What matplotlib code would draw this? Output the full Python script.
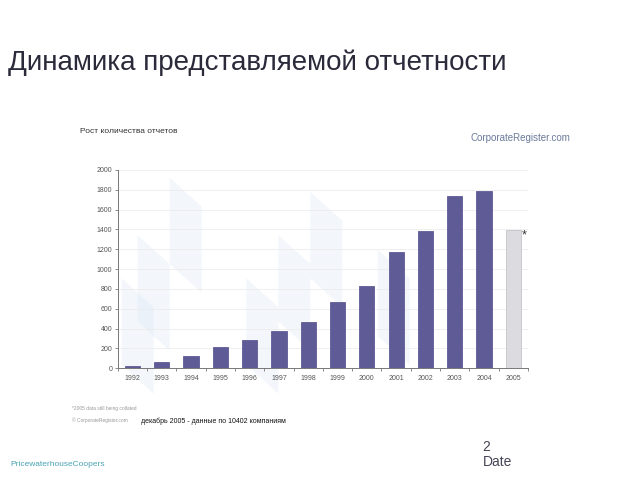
import matplotlib.pyplot as plt
from matplotlib.patches import Polygon
import numpy as np

plt.rcParams["font.family"] = ["Liberation Sans", "DejaVu Sans"]

# ====================== данные ======================
years = ["1992", "1993", "1994", "1995", "1996", "1997", "1998",
         "1999", "2000", "2001", "2002", "2003", "2004", "2005"]
reports = [25, 65, 120, 210, 280, 370, 470, 665, 830, 1170, 1385, 1735, 1785, 1395]
partial_year = "2005"
y_ticks = [0, 200, 400, 600, 800, 1000, 1200, 1400, 1600, 1800, 2000]

fig = plt.figure(figsize=(6.4, 4.8), dpi=100)

# декоративные полупрозрачные плоскости на фоне
for x0, y0 in [(0.19, 0.24), (0.215, 0.33), (0.265, 0.45), (0.385, 0.24),
               (0.435, 0.33), (0.485, 0.42), (0.59, 0.30)]:
    fig.patches.append(Polygon([[x0, y0], [x0 + 0.05, y0 - 0.06], [x0 + 0.05, y0 + 0.12], [x0, y0 + 0.18]],
                               closed=True, transform=fig.transFigure, facecolor="#dde8f4",
                               edgecolor="none", alpha=0.35, zorder=-1))

ax = fig.add_axes([0.184, 0.233, 0.641, 0.413])
ax.set_zorder(2)
ax.set_facecolor("none")
x = np.arange(len(years))
colors = ["#dcdce0" if y == partial_year else "#5f5b96" for y in years]
edges = ["#c4c4c8" if y == partial_year else "#5f5b96" for y in years]
ax.bar(x, reports, width=0.52, color=colors, edgecolor=edges, linewidth=0.6, zorder=3)

ax.set_ylim(0, 2000)
ax.set_xlim(-0.5, len(years) - 0.5)
ax.set_yticks(y_ticks)
ax.set_yticklabels([str(v) for v in y_ticks], fontsize=5, color="#555555")
ax.set_xticks(x)
ax.set_xticklabels(years, fontsize=5, color="#555555")
ax.tick_params(axis="x", length=0, pad=5)
ax.tick_params(axis="y", length=2, width=0.6, color="#777777", pad=2)
ax.set_xticks(np.arange(-0.5, len(years)), minor=True)
ax.tick_params(axis="x", which="minor", length=2, width=0.6, color="#777777")
ax.grid(axis="y", color="#ececec", linewidth=0.6, zorder=0)
for s in ["top", "right"]:
    ax.spines[s].set_visible(False)
for s in ["left", "bottom"]:
    ax.spines[s].set_color("#777777")
    ax.spines[s].set_linewidth(0.7)

i_last = years.index(partial_year)
ax.annotate("*", (x[i_last] + 0.3, reports[i_last]), xytext=(0, -4), textcoords="offset points",
            fontsize=9, color="#333333", ha="left", va="center")

# тексты слайда
fig.text(0.012, 0.87, "Динамика представляемой отчетности", fontsize=20, color="#2a2a3a", va="center")
fig.text(0.125, 0.727, "Рост количества отчетов", fontsize=6, color="#333333", va="center")
fig.text(0.735, 0.712, "CorporateRegister.com", fontsize=7, color="#6a7a9a", va="center")
fig.text(0.113, 0.148, "*2005 data still being collated", fontsize=3.5, color="#999999", va="center")
fig.text(0.113, 0.124, "© CorporateRegister.com", fontsize=3.5, color="#999999", va="center")
fig.text(0.22, 0.122, "декабрь 2005 - данные по 10402 компаниям", fontsize=5, color="#111111", va="center")
fig.text(0.016, 0.033, "PricewaterhouseCoopers", fontsize=6, color="#4aa3b5", va="center")
fig.text(0.754, 0.068, "2", fontsize=10, color="#444455", va="center")
fig.text(0.754, 0.038, "Date", fontsize=10, color="#444455", va="center")

fig.savefig("out.png", dpi=100)
